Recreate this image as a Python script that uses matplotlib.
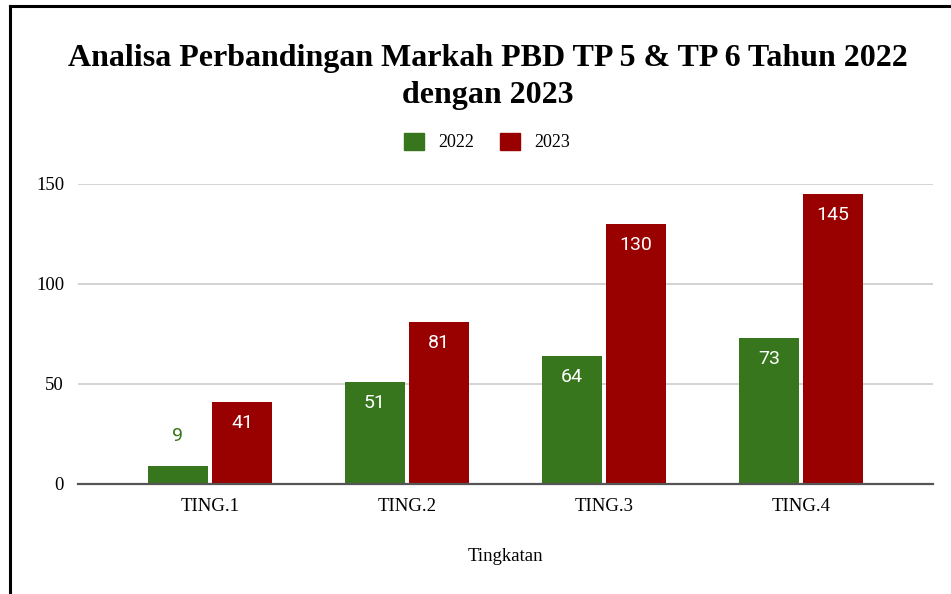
import numpy as np
import matplotlib.pyplot as plt
from matplotlib.lines import Line2D
from matplotlib.patches import Patch

categories = ['TING.1', 'TING.2', 'TING.3', 'TING.4']
vals_2022 = [9, 51, 64, 73]
vals_2023 = [41, 81, 130, 145]
series_names = ['2022', '2023']
yticks = [0, 50, 100, 150]

green = '#38761d'
red = '#990000'

W, H = 951, 594
fig = plt.figure(figsize=(W / 100, H / 100), dpi=100)
ax = fig.add_axes([78 / W, (H - 484) / H, (933 - 78) / W, 300 / H])

x = np.arange(len(categories))
bw = 0.305
off = 0.163
b1 = ax.bar(x - off, vals_2022, bw, color=green, zorder=3)
b2 = ax.bar(x + off, vals_2023, bw, color=red, zorder=3)

# data labels: inside bar near top when it fits, above otherwise
for bars, col in [(b1, green), (b2, red)]:
    for r in bars:
        h = r.get_height()
        cx = r.get_x() + r.get_width() / 2
        if h > 20:
            ax.text(cx, h - 10.5, str(int(h)), ha='center', va='center',
                    color='white', fontsize=14, family='Roboto', zorder=4)
        else:
            ax.text(cx, h + 15, str(int(h)), ha='center', va='center',
                    color=col, fontsize=14, family='Roboto', zorder=4)

ax.set_xlim(-0.67, 3.67)
ax.set_ylim(0, 150)
ax.set_yticks(yticks)
ax.set_xticks(x)
ax.set_xticklabels(categories, family='Liberation Serif', fontsize=13.5)
for t in ax.get_yticklabels():
    t.set_family('Liberation Serif')
    t.set_fontsize(13.5)
ax.tick_params(axis='both', length=0)
ax.tick_params(axis='y', pad=10)
ax.tick_params(axis='x', pad=10)
ax.grid(axis='y', color='#cccccc', linewidth=1.2, zorder=0)
for s in ['top', 'right', 'left']:
    ax.spines[s].set_visible(False)
ax.spines['bottom'].set_color('#555555')
ax.spines['bottom'].set_linewidth(1.6)
ax.spines['bottom'].set_zorder(5)

ax.set_xlabel('Tingkatan', family='Liberation Serif', fontsize=13.5, labelpad=24)

fig.text(488 / W, 1 - 77 / H,
         'Analisa Perbandingan Markah PBD TP 5 & TP 6 Tahun 2022\ndengan 2023',
         ha='center', va='center', family='Liberation Serif', weight='bold',
         fontsize=23, linespacing=1.38)

handles = [Patch(color=green, label=series_names[0]),
           Patch(color=red, label=series_names[1])]
leg = fig.legend(handles=handles, loc='center', bbox_to_anchor=(487 / W, 1 - 142 / H),
                 ncol=2, frameon=False, handlelength=1.1, handleheight=1.1,
                 columnspacing=1.4, handletextpad=0.8,
                 prop={'family': 'Liberation Serif', 'size': 13})

# black frame on left and top edges
fig.add_artist(Line2D([10 / W, 10 / W], [0, 1 - 6 / H], color='black', lw=2.2,
                      transform=fig.transFigure))
fig.add_artist(Line2D([10 / W, 1], [1 - 6 / H, 1 - 6 / H], color='black', lw=2.2,
                      transform=fig.transFigure))

fig.savefig('out.png', dpi=100)
